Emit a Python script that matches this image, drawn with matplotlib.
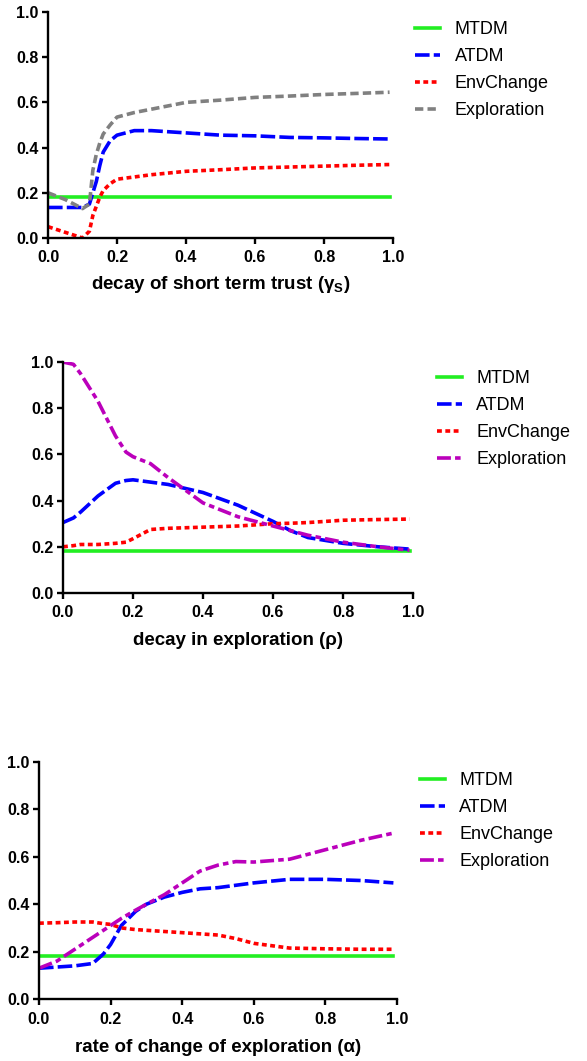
import matplotlib
matplotlib.use("Agg")
import matplotlib.pyplot as plt

plt.rcParams["font.family"] = ["Liberation Sans", "DejaVu Sans"]
plt.rcParams["mathtext.fontset"] = "custom"
plt.rcParams["mathtext.bf"] = "Liberation Sans:bold"
plt.rcParams["mathtext.rm"] = "Liberation Sans"
plt.rcParams["lines.scale_dashes"] = False

# ---- panel 1: decay of short term trust
x1 = [0.0, 0.05, 0.1, 0.12, 0.13, 0.14, 0.15, 0.16, 0.18, 0.2, 0.25, 0.3,
      0.4, 0.5, 0.6, 0.7, 0.8, 0.9, 0.99]
mtdm1 = [0.18] * len(x1)
atdm1 = [0.135, 0.135, 0.135, 0.15, 0.2, 0.25, 0.32, 0.38, 0.43, 0.455, 0.475,
         0.475, 0.465, 0.455, 0.452, 0.445, 0.443, 0.44, 0.438]
env1 = [0.05, 0.025, 0.0, 0.03, 0.1, 0.14, 0.18, 0.21, 0.24, 0.26, 0.27, 0.28,
        0.295, 0.302, 0.31, 0.314, 0.318, 0.322, 0.325]
expl1 = [0.2, 0.17, 0.13, 0.15, 0.3, 0.37, 0.42, 0.46, 0.5, 0.535, 0.555, 0.57,
         0.6, 0.61, 0.622, 0.628, 0.635, 0.64, 0.645]

# ---- panel 2: decay in exploration
x2 = [0.0, 0.03, 0.05, 0.1, 0.15, 0.18, 0.2, 0.25, 0.3, 0.4, 0.5, 0.6, 0.65,
      0.7, 0.8, 0.9, 0.99]
mtdm2 = [0.18] * len(x2)
atdm2 = [0.305, 0.325, 0.35, 0.42, 0.475, 0.487, 0.49, 0.48, 0.47, 0.435, 0.38,
         0.31, 0.27, 0.24, 0.215, 0.2, 0.19]
env2 = [0.2, 0.205, 0.21, 0.21, 0.215, 0.22, 0.235, 0.275, 0.28, 0.285, 0.29,
        0.3, 0.302, 0.305, 0.315, 0.318, 0.32]
expl2 = [1.0, 0.99, 0.95, 0.83, 0.68, 0.61, 0.59, 0.56, 0.5, 0.39, 0.33, 0.29,
         0.27, 0.25, 0.22, 0.2, 0.185]

# ---- panel 3: rate of change of exploration
x3 = [0.0, 0.05, 0.1, 0.15, 0.18, 0.2, 0.23, 0.27, 0.3, 0.35, 0.4, 0.45, 0.5,
      0.55, 0.6, 0.7, 0.8, 0.9, 0.99]
mtdm3 = [0.18] * len(x3)
atdm3 = [0.13, 0.135, 0.14, 0.15, 0.19, 0.23, 0.31, 0.37, 0.4, 0.43, 0.45,
         0.465, 0.47, 0.48, 0.49, 0.505, 0.505, 0.5, 0.49]
env3 = [0.32, 0.322, 0.325, 0.325, 0.318, 0.315, 0.3, 0.293, 0.29, 0.285, 0.28,
        0.275, 0.27, 0.255, 0.235, 0.215, 0.212, 0.21, 0.21]
expl3 = [0.13, 0.16, 0.21, 0.26, 0.29, 0.31, 0.34, 0.375, 0.4, 0.44, 0.49,
         0.54, 0.565, 0.58, 0.578, 0.59, 0.63, 0.67, 0.70]

labels = ["MTDM", "ATDM", "EnvChange", "Exploration"]
xlabels = ["decay of short term trust (γ$_\\mathbf{S}$)",
           "decay in exploration (ρ)",
           "rate of change of exploration (α)"]
ticks = [0.0, 0.2, 0.4, 0.6, 0.8, 1.0]

# axes rectangles and legend anchors in figure fractions
rects = [[0.0818, 0.7757, 0.5877, 0.2130],
         [0.1073, 0.4411, 0.5963, 0.2177],
         [0.0664, 0.0584, 0.6099, 0.2234]]
legAnchors = [(0.707, 0.980), (0.744, 0.651), (0.715, 0.272)]
labelPads = [6, 8, 9]
explColors = ["#808080", "#bb00bb", "#bb00bb"]
explDashes = [(6, 3), (10, 3, 4, 3), (10, 3, 4, 3)]

data = [(x1, mtdm1, atdm1, env1, expl1),
        (x2, mtdm2, atdm2, env2, expl2),
        (x3, mtdm3, atdm3, env3, expl3)]

fig = plt.figure(figsize=(5.87, 10.61), dpi=100)

for i, (x, mt, at, en, ex) in enumerate(data):
    ax = fig.add_axes(rects[i])
    lw = 2.6
    ax.plot(x, mt, color="#22ee22", lw=lw, label=labels[0])
    ax.plot(x, at, color="#0000ff", lw=lw, dashes=(10.5, 3), label=labels[1])
    ax.plot(x, en, color="#ff0000", lw=lw, dashes=(3.5, 2.5), label=labels[2])
    ax.plot(x, ex, color=explColors[i], lw=lw, dashes=explDashes[i],
            label=labels[3])

    ax.set_xlim(0, 1)
    ax.set_ylim(0, 1)
    ax.set_xticks(ticks)
    ax.set_yticks(ticks)
    ax.set_xticklabels(["%.1f" % t for t in ticks])
    ax.set_yticklabels(["%.1f" % t for t in ticks])
    for side in ["top", "right"]:
        ax.spines[side].set_visible(False)
    for side in ["left", "bottom"]:
        ax.spines[side].set_linewidth(1.7)
    ax.tick_params(axis="both", direction="out", length=4, width=1.7,
                   labelsize=11.5)
    ax.tick_params(axis="x", pad=5)
    ax.tick_params(axis="y", pad=3)
    for lab in ax.get_xticklabels() + ax.get_yticklabels():
        lab.set_fontweight("bold")
    ax.set_xlabel(xlabels[i], fontsize=13.5, fontweight="bold",
                  labelpad=labelPads[i])

    ax.legend(loc="upper left", bbox_to_anchor=legAnchors[i],
              bbox_transform=fig.transFigure, frameon=False, fontsize=13,
              handlelength=1.4, handletextpad=0.8, labelspacing=0.55,
              borderpad=0, borderaxespad=0)

fig.savefig("out.png", dpi=100)
